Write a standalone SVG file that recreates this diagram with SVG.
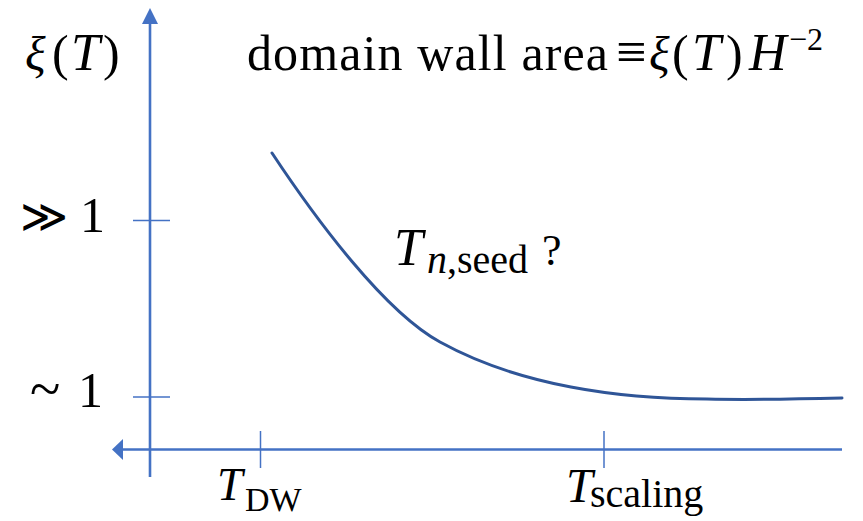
<svg xmlns="http://www.w3.org/2000/svg" width="863" height="521" viewBox="0 0 863 521">
  <style>
    .axis { stroke: #4472C4; stroke-width: 2.6; fill: none; }
    .tick { stroke: #4472C4; stroke-width: 1.5; fill: none; }
    .head { fill: #4472C4; stroke: none; }
    .curve { stroke: #2F5597; stroke-width: 3; fill: none; stroke-linecap: round; }
    text { font-family: "Liberation Serif", "DejaVu Serif", "DejaVu Sans", serif; fill: #000; }
    .it { font-style: italic; }
  </style>
  <rect width="863" height="521" fill="#fff"/>

  <!-- axes -->
  <g id="axes">
    <line class="axis" x1="150" y1="477" x2="150" y2="22"/>
    <polygon class="head" points="150,8 158,24 142,24"/>
    <line class="axis" x1="842" y1="449.5" x2="121" y2="449.5"/>
    <polygon class="head" points="112,449.5 123,439 123,460"/>
  </g>

  <!-- tick marks -->
  <g id="ticks">
    <line class="tick" x1="133" y1="220.5" x2="170" y2="220.5"/>
    <line class="tick" x1="133" y1="397" x2="170" y2="397"/>
    <line class="tick" x1="260.5" y1="431" x2="260.5" y2="468"/>
    <line class="tick" x1="604" y1="431" x2="604" y2="468"/>
  </g>

  <!-- correlation length curve -->
  <g id="curve">
    <path class="curve" d="M272,153 C317,221 385,312 440,342 C520,386 620,399 707,399 C750,400 800,399 842,398"/>
  </g>

  <!-- y-axis label -->
  <g id="label-xi">
    <text x="25" y="70" font-size="48" class="it">ξ</text>
    <text x="52" y="70" font-size="50">(</text>
    <text x="71" y="70" font-size="52" class="it">T</text>
    <text x="103" y="70" font-size="50">)</text>
  </g>

  <!-- definition -->
  <g id="label-area">
    <text x="247" y="70" font-size="50" textLength="361" lengthAdjust="spacing">domain wall area</text>
    <text x="616" y="70" font-size="54">≡</text>
    <text x="649" y="70" font-size="48" class="it">ξ</text>
    <text x="672" y="70" font-size="50">(</text>
    <text x="692" y="70" font-size="52" class="it">T</text>
    <text x="726" y="70" font-size="50">)</text>
    <text x="749" y="70" font-size="52" class="it">H</text>
    <text x="789" y="50" font-size="32">−2</text>
  </g>

  <!-- y tick labels -->
  <g id="label-much-greater">
    <text x="20" y="232" font-size="46">≫</text>
    <text x="80" y="232" font-size="50">1</text>
  </g>
  <g id="label-order-one">
    <text x="30" y="408" font-size="56">~</text>
    <text x="78" y="407" font-size="50">1</text>
  </g>

  <!-- curve annotation -->
  <g id="label-tseed">
    <text x="394" y="265" font-size="52" class="it">T</text>
    <text x="427" y="273" font-size="40"><tspan class="it">n</tspan>,seed</text>
    <text x="542" y="265" font-size="44">?</text>
  </g>

  <!-- x tick labels -->
  <g id="label-tdw">
    <text x="217" y="500" font-size="46" class="it">T</text>
    <text x="245" y="511" font-size="34">DW</text>
  </g>
  <g id="label-tscaling">
    <text x="566" y="502" font-size="48" class="it">T</text>
    <text x="590" y="507" font-size="40">scaling</text>
  </g>
</svg>
